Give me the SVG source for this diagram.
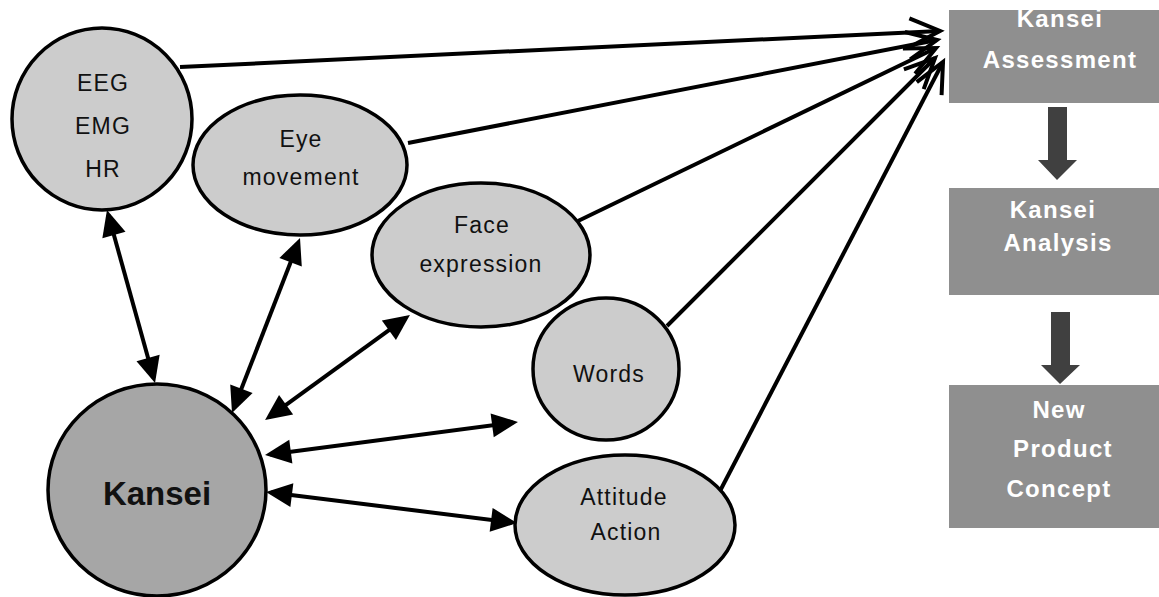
<svg xmlns="http://www.w3.org/2000/svg" width="1159" height="597" viewBox="0 0 1159 597">
<style>
.node{fill:#cccccc;stroke:#000;stroke-width:3.5}
.core{fill:#a6a6a6;stroke:#000;stroke-width:3.5}
.lbl{font-family:"Liberation Sans",Arial,sans-serif;font-size:23px;fill:#111;text-anchor:middle;letter-spacing:1.2px}
.big{font-family:"Liberation Sans",Arial,sans-serif;font-size:33px;font-weight:bold;fill:#111;text-anchor:middle}
.box{fill:#8f8f8f}
.btxt{font-family:"Liberation Sans",Arial,sans-serif;font-size:24px;font-weight:bold;fill:#fff;text-anchor:middle;letter-spacing:1.3px}
.bi{stroke:#000;stroke-width:4;fill:none;marker-start:url(#tri);marker-end:url(#tri)}
.uni{stroke:#000;stroke-width:4;fill:none;marker-end:url(#vee)}
.down{fill:#404040}
</style>
<defs>
<marker id="tri" markerUnits="userSpaceOnUse" markerWidth="28" markerHeight="26" refX="21" refY="12" orient="auto-start-reverse" overflow="visible">
<path d="M0,0 L26,12 L0,24 Z" fill="#000"/>
</marker>
<marker id="vee" markerUnits="userSpaceOnUse" markerWidth="34" markerHeight="32" refX="30" refY="14" orient="auto" overflow="visible">
<path d="M0,0 L30,14 L0,28" fill="none" stroke="#000" stroke-width="4" stroke-linejoin="miter"/>
</marker>
</defs>
<rect width="1159" height="597" fill="#fff"/>

<g id="connectors">
<line class="uni" x1="180" y1="67" x2="940" y2="31"/>
<line class="uni" x1="408" y1="143" x2="937" y2="40"/>
<line class="uni" x1="578" y1="221" x2="936" y2="48"/>
<line class="uni" x1="667" y1="326" x2="935" y2="58"/>
<line class="uni" x1="720" y1="491" x2="943" y2="62"/>
<line class="bi" x1="108.3" y1="214.8" x2="153.7" y2="378.2"/>
<line class="bi" x1="298.2" y1="242.7" x2="233.8" y2="408.3"/>
<line class="bi" x1="405.9" y1="317.9" x2="269.1" y2="417.1"/>
<line class="bi" x1="270" y1="454.4" x2="513" y2="422.6"/>
<line class="bi" x1="271" y1="492.6" x2="512" y2="522.4"/>
<path class="down" d="M1048,107 H1067 V160 H1077 L1057,180 L1038,160 H1048 Z"/>
<path class="down" d="M1051,312 H1070 V365 H1080 L1060,384 L1041,365 H1051 Z"/>
</g>

<g id="node-eeg">
<ellipse class="node" cx="102" cy="119" rx="90" ry="91"/>
<text class="lbl" x="103" y="91">EEG</text>
<text class="lbl" x="103" y="134">EMG</text>
<text class="lbl" x="103" y="177">HR</text>
</g>
<g id="node-eye">
<ellipse class="node" cx="300" cy="165" rx="107" ry="70"/>
<text class="lbl" x="301" y="147">Eye</text>
<text class="lbl" x="301" y="185">movement</text>
</g>
<g id="node-face">
<ellipse class="node" cx="481" cy="255" rx="109" ry="72"/>
<text class="lbl" x="482" y="233">Face</text>
<text class="lbl" x="481" y="272">expression</text>
</g>
<g id="node-words">
<ellipse class="node" cx="606" cy="369" rx="73" ry="71"/>
<text class="lbl" x="609" y="382">Words</text>
</g>
<g id="node-attitude">
<ellipse class="node" cx="625" cy="525" rx="110" ry="70"/>
<text class="lbl" x="624" y="505">Attitude</text>
<text class="lbl" x="626" y="540">Action</text>
</g>
<g id="node-kansei">
<ellipse class="core" cx="157" cy="490" rx="109" ry="106"/>
<text class="big" x="157" y="505">Kansei</text>
</g>
<g id="node-assessment">
<rect class="box" x="949" y="10" width="230" height="93"/>
<text class="btxt" x="1060" y="27">Kansei</text>
<text class="btxt" x="1060" y="68">Assessment</text>
</g>
<g id="node-analysis">
<rect class="box" x="949" y="188" width="230" height="107"/>
<text class="btxt" x="1053" y="218">Kansei</text>
<text class="btxt" x="1058" y="251">Analysis</text>
</g>
<g id="node-concept">
<rect class="box" x="949" y="385" width="230" height="143"/>
<text class="btxt" x="1059" y="418">New</text>
<text class="btxt" x="1063" y="457">Product</text>
<text class="btxt" x="1059" y="497">Concept</text>
</g>
</svg>
